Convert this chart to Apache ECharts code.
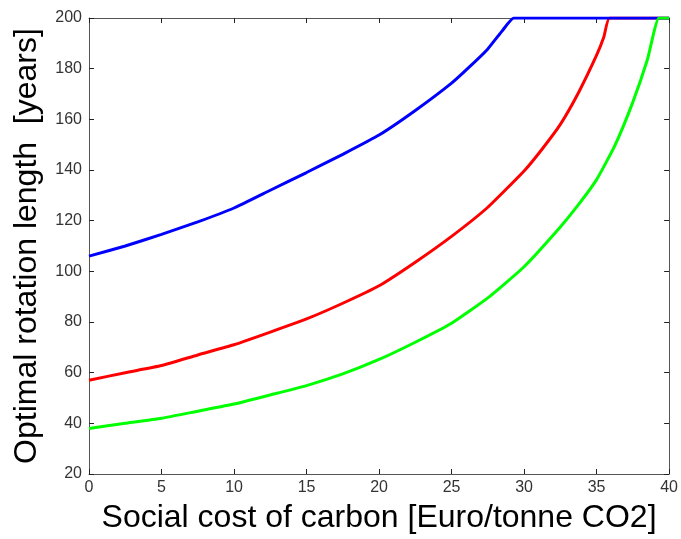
<!DOCTYPE html>
<html>
<head>
<meta charset="utf-8">
<script src="https://cdn.jsdelivr.net/npm/echarts@6/dist/echarts.min.js"></script>
<style>
html,body{margin:0;padding:0;background:#fff;}
#c{width:681px;height:539px;}
</style>
</head>
<body>
<div id="c"></div>
<script>
// Social cost of carbon [Euro/tonne CO2]
const blueX = [0, 2.5, 5, 7.5, 10, 12.5, 15, 17.5, 20, 22.5, 25, 26.25, 27.5, 28.5, 29.3, 40];
const blueY = [106, 110, 114.6, 119.5, 125, 132, 139, 146.2, 153.8, 163.5, 174.3, 180.8, 187.8, 195, 200, 200];

const redX = [0, 2.5, 5, 7.5, 10, 12.5, 15, 17.5, 20, 22.5, 25, 27.5, 30, 31.25, 32.5, 33.75, 35, 35.5, 35.9, 40];
const redY = [57, 60, 62.8, 67, 71, 76, 81.2, 87.4, 94.3, 103.6, 113.8, 125.3, 139.6, 148.3, 158, 170.5, 185.3, 192.5, 200, 200];

const greenX = [0, 2.5, 5, 7.5, 10, 12.5, 15, 17.5, 20, 22.5, 25, 27.5, 30, 32.5, 33.75, 35, 36.25, 37.5, 38.5, 39.3, 40];
const greenY = [38, 40, 42, 44.8, 47.6, 51.2, 54.9, 59.5, 65.2, 72, 79.5, 89.5, 101.8, 117.5, 126.3, 136.2, 149.5, 166.8, 183.5, 200, 200];

const xTicks = [0, 5, 10, 15, 20, 25, 30, 35, 40];
const yTicks = [20, 40, 60, 80, 100, 120, 140, 160, 180, 200];

const xTitle = 'Social cost of carbon [Euro/tonne CO2]';
const yTitle = 'Optimal rotation length  [years]';

function pairs(xs, ys){ return xs.map((x,i)=>[x, ys[i]]); }

const chart = echarts.init(document.getElementById('c'), null, {renderer:'canvas'});
const font = 'Liberation Sans, Arial, Helvetica, sans-serif';
const axisCol = '#555555';
const baseX = {
  type:'value', min:xTicks[0], max:xTicks[xTicks.length-1], interval:5,
  axisLine:{show:true, onZero:false, lineStyle:{color:axisCol, width:1}},
  axisTick:{show:true, inside:true, length:5, lineStyle:{color:'#222'}},
  splitLine:{show:false}
};
const baseY = {
  type:'value', min:yTicks[0], max:yTicks[yTicks.length-1], interval:20,
  axisLine:{show:true, onZero:false, lineStyle:{color:axisCol, width:1}},
  axisTick:{show:true, inside:true, length:5, lineStyle:{color:'#222'}},
  splitLine:{show:false}
};
chart.setOption({
  animation:false,
  backgroundColor:'#ffffff',
  grid:{left:89, right:8, top:18, bottom:65, containLabel:false},
  xAxis:[
    Object.assign({}, baseX, {
      position:'bottom',
      name:xTitle, nameLocation:'middle', nameGap:28,
      nameTextStyle:{fontFamily:font, fontSize:32, color:'#000'},
      axisLabel:{show:true, fontFamily:font, fontSize:16, color:'#333', margin:6}
    }),
    Object.assign({}, baseX, {position:'top', axisLabel:{show:false}})
  ],
  yAxis:[
    Object.assign({}, baseY, {
      position:'left',
      name:yTitle, nameLocation:'middle', nameGap:46,
      nameTextStyle:{fontFamily:font, fontSize:32, color:'#000'},
      axisLabel:{show:true, fontFamily:font, fontSize:16, color:'#333', margin:7}
    }),
    Object.assign({}, baseY, {position:'right', axisLabel:{show:false}})
  ],
  series:[
    {type:'line', data:pairs(redX, redY), smooth:0.15, showSymbol:false, lineStyle:{color:'#ff0000', width:3}, z:2},
    {type:'line', data:pairs(blueX, blueY), smooth:0.15, showSymbol:false, lineStyle:{color:'#0000ff', width:3}, z:3},
    {type:'line', data:pairs(greenX, greenY), smooth:0.15, showSymbol:false, lineStyle:{color:'#00ff00', width:3}, z:4}
  ]
});
</script>
</body>
</html>
